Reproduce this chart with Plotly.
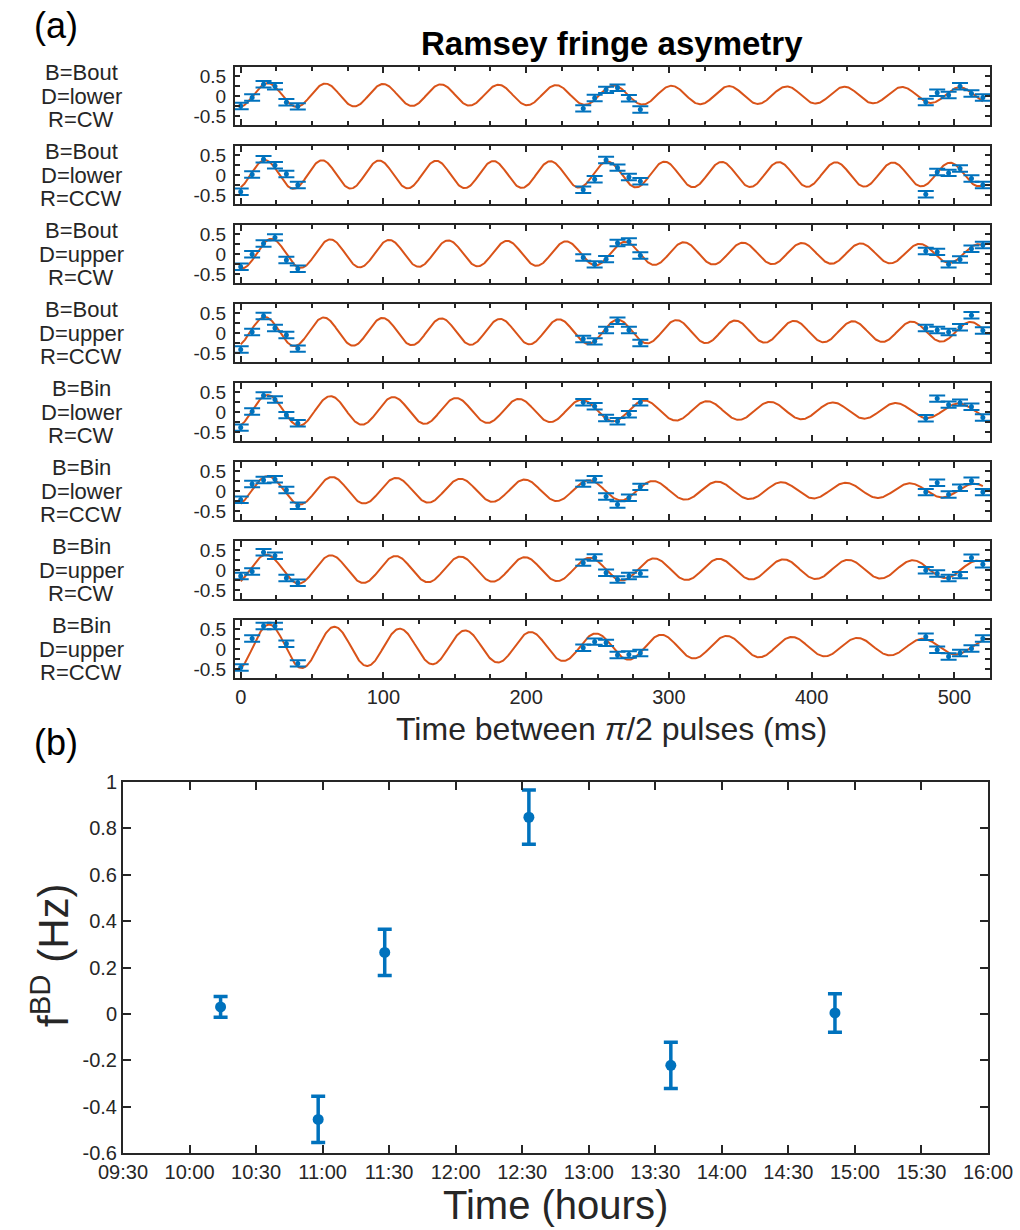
import numpy as np
import plotly.graph_objects as go

# ---------------- data: panel (a) ----------------
t_left = [0, 8, 16, 24, 32, 40]
t_mid = [240, 248, 256, 264, 272, 280]
t_right = [480, 488, 496, 504, 512, 520]

label_B = ["Bout", "Bout", "Bout", "Bout", "Bin", "Bin", "Bin", "Bin"]
label_D = ["lower", "lower", "upper", "upper", "lower", "lower", "upper", "upper"]
label_R = ["CW", "CCW", "CW", "CCW", "CW", "CCW", "CW", "CCW"]

# asymmetry values: left block, middle block, right block
asym_p1 = [-0.24, -0.03, 0.30, 0.25, -0.15, -0.25,  -0.30, -0.04, 0.16, 0.21, -0.05, -0.33,  -0.14, 0.09, 0.03, 0.25, 0.07, -0.03]
asym_p2 = [-0.41, 0.02, 0.40, 0.25, 0.03, -0.24,   -0.36, -0.10, 0.38, 0.19, -0.04, -0.15,  -0.47, 0.08, 0.06, 0.17, -0.08, -0.24]
asym_p3 = [-0.31, 0.00, 0.27, 0.42, -0.14, -0.36,  -0.08, -0.25, -0.12, 0.28, 0.32, -0.03,  0.08, 0.06, -0.25, -0.13, 0.14, 0.23]
asym_p4 = [-0.40, 0.03, 0.43, 0.13, -0.04, -0.38,  -0.14, -0.20, 0.08, 0.31, 0.08, -0.24,   0.13, 0.08, 0.03, 0.15, 0.45, 0.07]
asym_p5 = [-0.38, 0.02, 0.42, 0.32, -0.07, -0.27,  0.25, 0.15, -0.14, -0.22, -0.05, 0.25,   -0.15, 0.34, 0.19, 0.24, 0.14, -0.13]
asym_p6 = [-0.21, 0.18, 0.28, 0.30, 0.03, -0.36,   0.19, 0.30, -0.13, -0.33, -0.16, 0.11,   -0.02, 0.21, -0.08, 0.09, 0.26, -0.02]
asym_p7 = [-0.14, -0.03, 0.45, 0.36, -0.19, -0.31, 0.19, 0.32, -0.06, -0.23, -0.14, -0.08,  0.00, -0.08, -0.19, -0.12, 0.31, 0.15]
asym_p8 = [-0.45, 0.27, 0.58, 0.58, 0.14, -0.35,   0.04, 0.19, 0.16, -0.14, -0.13, -0.09,   0.31, -0.01, -0.18, -0.09, 0.02, 0.27]
asym_err = [0.08] * 18

# fitted-fringe parameters per panel
fit_amp = [0.30, 0.36, 0.37, 0.37, 0.40, 0.37, 0.37, 0.58]
fit_tau = [1150, 2400, 1100, 1200, 620, 640, 940, 450]
fit_peak = [19, 17, 21.5, 17, 19, 19, 18, 20]
fit_period = [40.4, 40.0, 41.3, 41.2, 44.0, 45.0, 45.3, 45.8]
fit_offset = [0.03, 0.02, 0.02, 0.04, 0.04, 0.02, 0.025, 0.06]

# ---------------- data: panel (b) ----------------
run_time = ["2017-01-01 10:14", "2017-01-01 10:58", "2017-01-01 11:28",
            "2017-01-01 12:33", "2017-01-01 13:37", "2017-01-01 14:51"]
f_bd = [0.03, -0.455, 0.265, 0.848, -0.222, 0.004]
f_bd_err = [0.045, 0.10, 0.10, 0.117, 0.10, 0.083]
f_ticks = [-0.6, -0.4, -0.2, 0, 0.2, 0.4, 0.6, 0.8, 1]

# ---------------- styling ----------------
W, H = 1020, 1230
BLUE = "#0072BD"
ORANGE = "#D95319"
AX = "#262626"
FONT = "Liberation Sans, Arial, sans-serif"
NARROW = "Liberation Sans Narrow, Liberation Sans, Arial, sans-serif"

def px_x(p):
    return p / W

def px_y(p):
    return 1 - p / H

def tick_text(v):
    return "0" if v == 0 else ("%g" % v)

asym_all = [asym_p1, asym_p2, asym_p3, asym_p4, asym_p5, asym_p6, asym_p7, asym_p8]
t_all = t_left + t_mid + t_right

fig = go.Figure()
layout = dict(
    width=W, height=H, margin=dict(l=0, r=0, t=0, b=0, autoexpand=False),
    paper_bgcolor="white", plot_bgcolor="white", showlegend=False,
    font=dict(family=FONT, color=AX),
)
annotations = []

x_left_px, x_right_px = 235, 990
t_curve = np.linspace(0, 520, 1200)

for k in range(8):
    ax_id = "" if k == 0 else str(k + 1)
    top = 67.3 + 79.0 * k
    bot = top + 58
    xa = "x" + ax_id
    ya = "y" + ax_id
    curve = fit_amp[k] * np.exp(-t_curve / fit_tau[k]) * np.cos(
        2 * np.pi * (t_curve - fit_peak[k]) / fit_period[k]) + fit_offset[k]
    fig.add_trace(go.Scatter(x=t_curve, y=curve, mode="lines",
                             line=dict(color=ORANGE, width=2), xaxis=xa, yaxis=ya))
    fig.add_trace(go.Scatter(x=t_all, y=asym_all[k], mode="markers",
                             marker=dict(color=BLUE, size=5),
                             error_y=dict(type="data", array=asym_err, color=BLUE,
                                          thickness=2, width=8),
                             xaxis=xa, yaxis=ya))
    layout["xaxis" + ax_id] = dict(
        domain=[px_x(x_left_px), px_x(x_right_px)], anchor=ya, automargin=False,
        range=[-4, 525], tickmode="linear", tick0=0, dtick=100,
        ticks="inside", ticklen=6, tickwidth=2, tickcolor=AX,
        minor=dict(tickmode="linear", tick0=0, dtick=25, ticks="inside",
                   ticklen=4, tickwidth=1.5, tickcolor=AX),
        showline=True, linewidth=2, linecolor=AX, mirror="ticks",
        showgrid=False, zeroline=False,
        showticklabels=(k == 7),
        tickfont=dict(family=NARROW, size=20, color=AX),
    )
    layout["yaxis" + ax_id] = dict(
        domain=[px_y(bot), px_y(top)], anchor=xa, automargin=False,
        range=[-0.72, 0.72], tickmode="array", tickvals=[-0.5, 0, 0.5],
        ticktext=["-0.5", "0", "0.5"],
        ticks="inside", ticklen=5, tickwidth=2, tickcolor=AX,
        minor=dict(tickmode="linear", tick0=0, dtick=0.25, ticks="inside",
                   ticklen=5, tickwidth=1.5, tickcolor=AX),
        showline=True, linewidth=2, linecolor=AX, mirror="ticks",
        showgrid=False, zeroline=False,
        tickfont=dict(family=FONT, size=19, color=AX), ticklabelstandoff=3,
    )
    cy = (top + bot) / 2
    for off, txt in [(-23.5, "B=" + label_B[k]), (0, "D=" + label_D[k]), (23, "R=" + label_R[k])]:
        annotations.append(dict(x=px_x(81), y=px_y(cy + off), xref="paper", yref="paper",
                                text=txt, showarrow=False, xanchor="center", yanchor="middle",
                                font=dict(family=FONT, size=22, color=AX)))

# panel (b)
fig.add_trace(go.Scatter(x=run_time, y=f_bd, mode="markers",
                         marker=dict(color=BLUE, size=11),
                         error_y=dict(type="data", array=f_bd_err, color=BLUE,
                                      thickness=3.5, width=7),
                         xaxis="x9", yaxis="y9"))
layout["xaxis9"] = dict(
    domain=[px_x(123), px_x(988)], anchor="y9", type="date", automargin=False,
    range=["2017-01-01 09:30", "2017-01-01 16:00"],
    tickmode="linear", tick0="2017-01-01 09:30", dtick=1800000, tickformat="%H:%M",
    ticks="inside", ticklen=8, tickwidth=1.5, tickcolor=AX,
    showline=True, linewidth=2, linecolor=AX, mirror="ticks",
    showgrid=False, zeroline=False,
    tickfont=dict(family=FONT, size=20, color=AX),
)
layout["yaxis9"] = dict(
    domain=[px_y(1153), px_y(782)], anchor="x9", automargin=False,
    range=[-0.6, 1.0], tickmode="array", tickvals=f_ticks,
    ticktext=[tick_text(v) for v in f_ticks],
    ticks="inside", ticklen=8, tickwidth=1.5, tickcolor=AX,
    showline=True, linewidth=2, linecolor=AX, mirror="ticks",
    showgrid=False, zeroline=False,
    tickfont=dict(family=FONT, size=20, color=AX),
)

# text
annotations += [
    dict(x=px_x(56), y=px_y(26), text="(a)", font=dict(size=36, color="black")),
    dict(x=px_x(56), y=px_y(742), text="(b)", font=dict(size=36, color="black")),
    dict(x=px_x(612), y=px_y(44), text="<b>Ramsey fringe asymetry</b>",
         font=dict(size=33, color="black")),
    dict(x=px_x(611), y=px_y(729), text="Time between <i>π</i>/2 pulses (ms)",
         font=dict(size=32, color=AX)),
    dict(x=px_x(555), y=px_y(1205), text="Time (hours)",
         font=dict(size=40, color=AX)),
    dict(x=px_x(50), y=px_y(955), text="f<sup>BD</sup> (Hz)", textangle=-90,
         font=dict(size=42, color=AX)),
]
for a in annotations:
    a.setdefault("xref", "paper")
    a.setdefault("yref", "paper")
    a.setdefault("showarrow", False)
    a.setdefault("xanchor", "center")
    a.setdefault("yanchor", "middle")
    a["font"].setdefault("family", FONT)
layout["annotations"] = annotations

fig.update_layout(**layout)
fig.write_html("out.html")
